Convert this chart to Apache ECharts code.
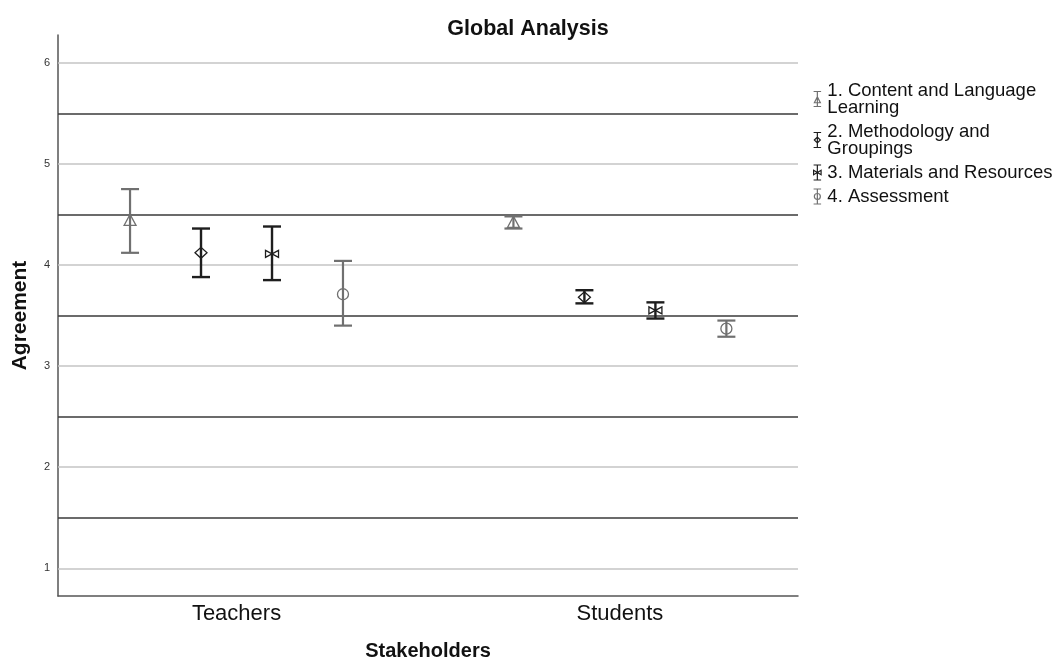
<!DOCTYPE html>
<html><head><meta charset="utf-8">
<script src="https://cdn.jsdelivr.net/npm/echarts@6/dist/echarts.min.js"></script>
<style>html,body{margin:0;padding:0;background:#fff}#c{width:1056px;height:659px}</style>
</head><body><div id="c"></div>
<script>
const categories = ['Teachers', 'Students'];
const seriesNames = ['1. Content and Language Learning', '2. Methodology and Groupings', '3. Materials and Resources', '4. Assessment'];
const legendLabels = ['1. Content and Language\nLearning', '2. Methodology and\nGroupings', '3. Materials and Resources', '4. Assessment'];

const meanContent = [4.44, 4.42];
const lowContent = [4.12, 4.36];
const highContent = [4.75, 4.48];

const meanMethod = [4.12, 3.68];
const lowMethod = [3.88, 3.62];
const highMethod = [4.36, 3.75];

const meanMaterials = [4.11, 3.55];
const lowMaterials = [3.85, 3.47];
const highMaterials = [4.38, 3.63];

const meanAssess = [3.71, 3.37];
const lowAssess = [3.40, 3.29];
const highAssess = [4.04, 3.45];

const yTicks = [1, 2, 3, 4, 5, 6];
const halfLines = [1.5, 2.5, 3.5, 4.5, 5.5];

const means = [meanContent, meanMethod, meanMaterials, meanAssess];
const lows = [lowContent, lowMethod, lowMaterials, lowAssess];
const highs = [highContent, highMethod, highMaterials, highAssess];

const colors = ['#707070', '#1e1e1e', '#1e1e1e', '#707070'];
const barWidths = [2.2, 2.4, 2.4, 2.2];
const offsets = [-0.2777, -0.0926, 0.0926, 0.2777];
const icons = [
  'path://M0,0L10,0M5,0L5,20M0,20L10,20M1,15L5,7L9,15Z',
  'path://M0,0L10,0M5,0L5,20M0,20L10,20M1,10L5,6L9,10L5,14Z',
  'path://M0,0L10,0M5,0L5,20M0,20L10,20M0,7L10,13L10,7L0,13Z',
  'path://M0,0L10,0M5,0L5,20M0,20L10,20M9,10A4,4 0 1 1 1,10A4,4 0 1 1 9,10Z'
];
const FONT = '"Liberation Sans", Arial, sans-serif';

function marker(k, p, c) {
  const x = p[0], y = p[1];
  const style = { fill: 'none', stroke: c, lineWidth: 1.3 };
  if (k === 0) return { type: 'polygon', shape: { points: [[x - 6, y + 5], [x, y - 6], [x + 6, y + 5]] }, style };
  if (k === 1) return { type: 'polygon', shape: { points: [[x - 6, y], [x, y - 5.5], [x + 6, y], [x, y + 5.5]] }, style };
  if (k === 2) return { type: 'polygon', shape: { points: [[x - 6.5, y - 3.5], [x + 6.5, y + 3.5], [x + 6.5, y - 3.5], [x - 6.5, y + 3.5]] }, style };
  return { type: 'circle', shape: { cx: x, cy: y, r: 5.5 }, style };
}

function makeRender(k) {
  return function (params, api) {
    const xv = api.value(0) + 1 + offsets[k];
    const m = api.coord([xv, api.value(1)]);
    const lo = api.coord([xv, api.value(2)]);
    const hi = api.coord([xv, api.value(3)]);
    const c = colors[k], lw = barWidths[k], cw = 9;
    const ls = { stroke: c, lineWidth: lw };
    return {
      type: 'group',
      children: [
        { type: 'line', shape: { x1: m[0], y1: hi[1], x2: m[0], y2: lo[1] }, style: ls },
        { type: 'line', shape: { x1: m[0] - cw, y1: hi[1], x2: m[0] + cw, y2: hi[1] }, style: ls },
        { type: 'line', shape: { x1: m[0] - cw, y1: lo[1], x2: m[0] + cw, y2: lo[1] }, style: ls },
        marker(k, m, c)
      ]
    };
  };
}

const series = seriesNames.map((name, k) => ({
  name,
  type: 'custom',
  z: 5,
  renderItem: makeRender(k),
  data: categories.map((cat, i) => [i, means[k][i], lows[k][i], highs[k][i]])
}));

series.unshift({
  type: 'line',
  name: 'grid',
  data: [],
  silent: true,
  z: 1,
  markLine: {
    symbol: 'none',
    silent: true,
    animation: false,
    label: { show: false },
    data: yTicks.map(v => ({ yAxis: v, lineStyle: { color: '#c4c4c4', width: 1.5, type: 'solid' } }))
      .concat(halfLines.map(v => ({ yAxis: v, lineStyle: { color: '#3a3a3a', width: 1.5, type: 'solid' } })))
  }
});

const chart = echarts.init(document.getElementById('c'));
chart.setOption({
  animation: false,
  backgroundColor: '#fff',
  textStyle: { fontFamily: FONT },
  title: {
    text: 'Global Analysis',
    left: 'center',
    top: 13,
    textStyle: { fontSize: 21.5, fontWeight: 'bold', color: '#111', fontFamily: FONT }
  },
  legend: {
    orient: 'vertical',
    left: 808,
    top: 76,
    itemWidth: 10,
    itemHeight: 15,
    itemGap: 5,
    selectedMode: false,
    formatter: name => legendLabels[seriesNames.indexOf(name)],
    textStyle: { fontSize: 18.5, lineHeight: 17, color: '#111', fontFamily: FONT },
    data: seriesNames.map((name, k) => ({
      name,
      icon: icons[k],
      itemStyle: { color: 'transparent', borderColor: colors[k], borderWidth: 1.2 }
    }))
  },
  grid: { left: 58, right: 258, top: 35, bottom: 63, containLabel: false, outerBoundsMode: 'none' },
  xAxis: {
    type: 'value',
    min: 0.5344,
    max: 2.4645,
    splitLine: { show: false },
    axisTick: { show: false },
    axisLine: { show: true, lineStyle: { color: '#555', width: 1.5 } },
    axisLabel: {
      customValues: [1, 2],
      formatter: v => categories[Math.round(v) - 1],
      fontSize: 22,
      color: '#111',
      margin: 7
    },
    name: 'Stakeholders',
    nameLocation: 'middle',
    nameGap: 45,
    nameTextStyle: { fontSize: 20, fontWeight: 'bold', color: '#111' }
  },
  yAxis: {
    type: 'value',
    min: 0.726,
    max: 6.274,
    splitLine: { show: false },
    axisTick: { show: false },
    axisLine: { show: true, lineStyle: { color: '#555', width: 1.5 } },
    axisLabel: { customValues: yTicks, fontSize: 11, color: '#333', margin: 8 },
    name: 'Agreement',
    nameLocation: 'middle',
    nameGap: 27,
    nameTextStyle: { fontSize: 21, fontWeight: 'bold', color: '#111' }
  },
  series
});
</script>
</body></html>
